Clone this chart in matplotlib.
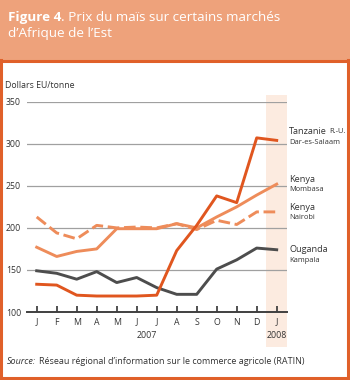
import numpy as np
import matplotlib.pyplot as plt
from matplotlib.patches import Rectangle

plt.rcParams['font.family'] = ['Open Sans', 'DejaVu Sans']

months = ['J', 'F', 'M', 'A', 'M', 'J', 'J', 'A', 'S', 'O', 'N', 'D', 'J']
tanzanie = [133, 132, 120, 119, 119, 119, 120, 173, 203, 238, 230, 307, 304]
mombasa = [177, 166, 172, 175, 199, 199, 199, 205, 200, 213, 225, 239, 252]
nairobi = [213, 194, 187, 203, 200, 201, 200, 205, 198, 209, 204, 219, 219]
ouganda = [149, 146, 139, 148, 135, 141, 129, 121, 121, 151, 162, 176, 174]
yticks = [100, 150, 200, 250, 300, 350]

c_dark = '#E0561F'
c_light = '#EE8C5A'
c_gray = '#4D4D4D'
c_border = '#E0602A'
c_text = '#333333'

fig = plt.figure(figsize=(3.5, 3.8), dpi=100)
W, H = 350, 380

def fx(px):
    return px / W

def fy(py):
    return 1 - py / H

# header and frame
fig.patches.append(Rectangle((0, fy(60)), 1, 60 / H, transform=fig.transFigure,
                             facecolor='#EEA27B', edgecolor='none', zorder=0))
fig.add_artist(plt.Line2D([0, 1], [fy(60.5)] * 2, color=c_border, lw=2.2))
fig.add_artist(plt.Line2D([fx(1.2)] * 2, [fy(60), fy(378)], color=c_border, lw=2.2))
fig.add_artist(plt.Line2D([fx(347.5)] * 2, [fy(60), fy(378)], color=c_border, lw=2.2))
fig.add_artist(plt.Line2D([fx(0), fx(349)], [fy(377.6)] * 2, color=c_border, lw=2.2))

t1 = fig.text(fx(8), fy(17.5), 'Figure 4', fontsize=9.7, color='white', va='center',
              fontweight='bold')
fig.canvas.draw()
bb = t1.get_window_extent()
fig.text(bb.x1 / W, fy(17.5), '. Prix du maïs sur certains marchés', fontsize=9.7,
         color='white', va='center')
fig.text(fx(8), fy(33.5), 'd\u2019Afrique de l\u2019Est', fontsize=9.7, color='white', va='center')

ax = fig.add_axes([fx(26.7), fy(312), 260 / W, 210.3 / H])
x = np.arange(len(months))

ax.axvspan(11.45, 12.53, ymin=-0.167, ymax=1.032, color='#FCEBE0', lw=0,
           clip_on=False, zorder=0)

for v in yticks[1:]:
    ax.axhline(v, color='#A0A0A0', lw=0.9, zorder=1)

ax.plot(x, ouganda, color=c_gray, lw=2.1, zorder=3)
ax.plot(x, nairobi, color=c_light, lw=2.1, ls=(0, (4, 1.6)), zorder=3)
ax.plot(x, mombasa, color=c_light, lw=2.1, zorder=3)
ax.plot(x, tanzanie, color=c_dark, lw=2.1, zorder=4)

ax.set_xlim(-0.5, 12.5)
ax.set_ylim(100, 350)
for s in ['top', 'right', 'left']:
    ax.spines[s].set_visible(False)
ax.spines['bottom'].set_color('#404040')
ax.spines['bottom'].set_linewidth(1.4)
ax.set_yticks(yticks)
ax.set_yticklabels([str(v) for v in yticks], fontsize=6.3, color=c_text)
ax.tick_params(axis='y', length=0, pad=4)
ax.set_xticks(x)
ax.set_xticklabels(months, fontsize=6.3, color=c_text)
ax.tick_params(axis='x', direction='in', length=4, width=1.2, color=c_text, pad=4)

ax.text(5.5, -0.092, '2007', transform=ax.get_xaxis_transform(), ha='center',
        va='top', fontsize=6.3, color=c_text)
ax.text(12, -0.092, '2008', transform=ax.get_xaxis_transform(), ha='center',
        va='top', fontsize=6.3, color=c_text)

fig.text(fx(5), fy(85), 'Dollars EU/tonne', fontsize=6.3, color=c_text, va='center')

# series labels
lx = fx(289)
t = fig.text(lx, fy(131.5), 'Tanzanie', fontsize=6.6, color=c_text, va='center')
fig.canvas.draw()
b = t.get_window_extent()
fig.text(b.x1 / W + 0.006, fy(131.5), 'R.-U.', fontsize=5.4, color=c_text, va='center')
fig.text(lx, fy(142), 'Dar-es-Salaam', fontsize=5.4, color=c_text, va='center')
fig.text(lx, fy(179), 'Kenya', fontsize=6.6, color=c_text, va='center')
fig.text(lx, fy(189.5), 'Mombasa', fontsize=5.4, color=c_text, va='center')
fig.text(lx, fy(207), 'Kenya', fontsize=6.6, color=c_text, va='center')
fig.text(lx, fy(217.5), 'Nairobi', fontsize=5.4, color=c_text, va='center')
fig.text(lx, fy(249.5), 'Ouganda', fontsize=6.6, color=c_text, va='center')
fig.text(lx, fy(260), 'Kampala', fontsize=5.4, color=c_text, va='center')

s1 = fig.text(fx(7), fy(362), 'Source:', fontsize=6.5, style='italic', color=c_text,
              va='center')
fig.canvas.draw()
sb = s1.get_window_extent()
fig.text(sb.x1 / W + 0.008, fy(362),
         'Réseau régional d\u2019information sur le commerce agricole (RATIN)',
         fontsize=6.5, color=c_text, va='center')

fig.savefig('out.png', dpi=100)
